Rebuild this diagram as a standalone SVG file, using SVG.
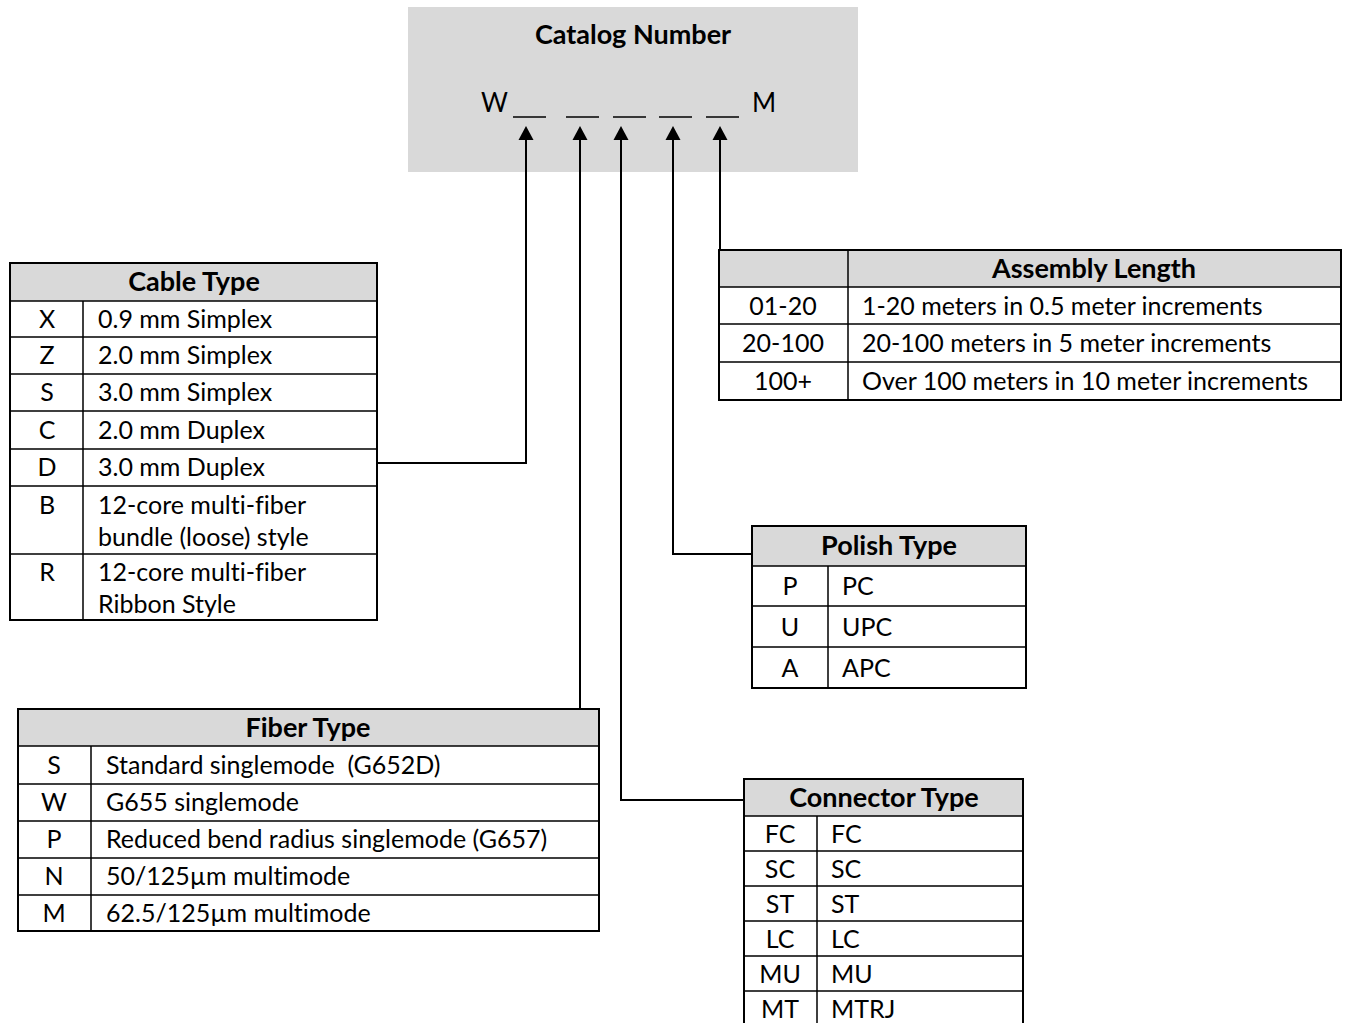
<svg xmlns="http://www.w3.org/2000/svg" width="1350" height="1023" viewBox="0 0 1350 1023">
<style>
text{font-family:Lato,"Open Sans","Liberation Sans",sans-serif;fill:#000;font-variant-ligatures:none}
.t{font-size:25px}
.h{font-size:27px;font-weight:bold;text-anchor:middle}
.c{text-anchor:middle}
.box{fill:#fff;stroke:#000;stroke-width:2}
.hd{fill:#d9d9d9}
.ln{stroke:#000;stroke-width:1.5;fill:none}
.cn{stroke:#000;stroke-width:2;fill:none;marker-end:url(#ah)}
</style>
<defs>
<marker id="ah" markerUnits="userSpaceOnUse" markerWidth="16" markerHeight="16" viewBox="0 0 16 16" refX="10" refY="8" orient="auto">
<path d="M0,0.5 L14,8 L0,15.5 z" fill="#000"/>
</marker>
</defs>
<rect width="1350" height="1023" fill="#fff"/>

<g id="catalog">
<rect x="408" y="7" width="450" height="165" fill="#d9d9d9"/>
<text x="633" y="44" class="h">Catalog Number</text>
<text x="481" y="112" style="font-size:26px">W</text>
<text x="752" y="112" style="font-size:26px">M</text>
<g class="ln" stroke-width="2">
<line x1="513" y1="117" x2="546" y2="117"/>
<line x1="566" y1="117" x2="599" y2="117"/>
<line x1="613" y1="117" x2="646" y2="117"/>
<line x1="659" y1="117" x2="692" y2="117"/>
<line x1="706" y1="117" x2="739" y2="117"/>
</g>
</g>

<g id="connectors">
<path class="cn" d="M377,463 H526 V130"/>
<path class="cn" d="M580,709 V130"/>
<path class="cn" d="M744,800 H621 V130"/>
<path class="cn" d="M752,554 H673 V130"/>
<path class="cn" d="M720,250 V130"/>
</g>

<g id="cable-type">
<rect x="10" y="263" width="367" height="357" class="box"/>
<rect x="11" y="264" width="365" height="37" class="hd"/>
<path class="ln" d="M10,301H377M10,337H377M10,374H377M10,411H377M10,449H377M10,486H377M10,554H377M83,301V620"/>
<text x="194" y="291" class="h">Cable Type</text>
<g class="t">
<text x="47" y="328" class="c">X</text><text x="98" y="328">0.9 mm Simplex</text>
<text x="47" y="364" class="c">Z</text><text x="98" y="364">2.0 mm Simplex</text>
<text x="47" y="401" class="c">S</text><text x="98" y="401">3.0 mm Simplex</text>
<text x="47" y="439" class="c">C</text><text x="98" y="439">2.0 mm Duplex</text>
<text x="47" y="476" class="c">D</text><text x="98" y="476">3.0 mm Duplex</text>
<text x="47" y="514" class="c">B</text><text x="98" y="514">12-core multi-fiber</text>
<text x="98" y="546">bundle (loose) style</text>
<text x="47" y="581" class="c">R</text><text x="98" y="581">12-core multi-fiber</text>
<text x="98" y="613">Ribbon Style</text>
</g>
</g>

<g id="fiber-type">
<rect x="18" y="709" width="581" height="222" class="box"/>
<rect x="19" y="710" width="579" height="36" class="hd"/>
<path class="ln" d="M18,746H599M18,784H599M18,821H599M18,858H599M18,895H599M91,746V931"/>
<text x="308" y="737" class="h">Fiber Type</text>
<g class="t">
<text x="54" y="774" class="c">S</text><text x="106" y="774" style="white-space:pre">Standard singlemode  (G652D)</text>
<text x="54" y="811" class="c">W</text><text x="106" y="811">G655 singlemode</text>
<text x="54" y="848" class="c">P</text><text x="106" y="848">Reduced bend radius singlemode (G657)</text>
<text x="54" y="885" class="c">N</text><text x="106" y="885">50/125µm multimode</text>
<text x="54" y="922" class="c">M</text><text x="106" y="922">62.5/125µm multimode</text>
</g>
</g>

<g id="assembly-length">
<rect x="719" y="250" width="622" height="150" class="box"/>
<rect x="720" y="251" width="620" height="36" class="hd"/>
<path class="ln" d="M719,287H1341M719,324H1341M719,362H1341M848,250V400"/>
<text x="1094" y="278" class="h">Assembly Length</text>
<g class="t">
<text x="783" y="315" class="c">01-20</text><text x="862" y="315">1-20 meters in 0.5 meter increments</text>
<text x="783" y="352" class="c">20-100</text><text x="862" y="352">20-100 meters in 5 meter increments</text>
<text x="783" y="390" class="c">100+</text><text x="862" y="390">Over 100 meters in 10 meter increments</text>
</g>
</g>

<g id="polish-type">
<rect x="752" y="526" width="274" height="162" class="box"/>
<rect x="753" y="527" width="272" height="39" class="hd"/>
<path class="ln" d="M752,566H1026M752,606H1026M752,647H1026M828,566V688"/>
<text x="889" y="555" class="h">Polish Type</text>
<g class="t">
<text x="790" y="595" class="c">P</text><text x="842" y="595">PC</text>
<text x="790" y="636" class="c">U</text><text x="842" y="636">UPC</text>
<text x="790" y="677" class="c">A</text><text x="842" y="677">APC</text>
</g>
</g>

<g id="connector-type">
<rect x="744" y="779" width="279" height="260" class="box"/>
<rect x="745" y="780" width="277" height="36" class="hd"/>
<path class="ln" d="M744,816H1023M744,851H1023M744,886H1023M744,921H1023M744,956H1023M744,991H1023M817,816V1040"/>
<text x="884" y="807" class="h">Connector Type</text>
<g class="t">
<text x="780" y="843" class="c">FC</text><text x="831" y="843">FC</text>
<text x="780" y="878" class="c">SC</text><text x="831" y="878">SC</text>
<text x="780" y="913" class="c">ST</text><text x="831" y="913">ST</text>
<text x="780" y="948" class="c">LC</text><text x="831" y="948">LC</text>
<text x="780" y="983" class="c">MU</text><text x="831" y="983">MU</text>
<text x="780" y="1018" class="c">MT</text><text x="831" y="1018">MTRJ</text>
</g>
</g>
</svg>
